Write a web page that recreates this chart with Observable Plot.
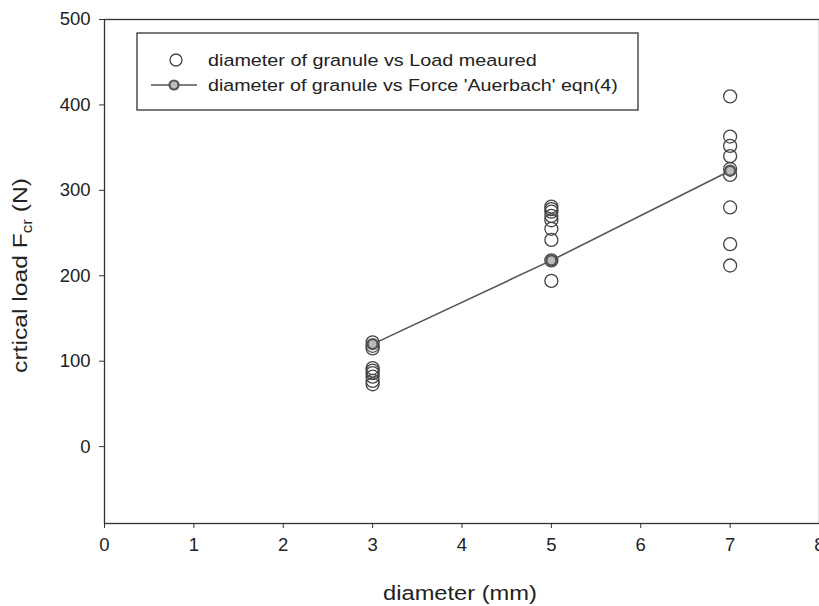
<!DOCTYPE html>
<html>
<head>
<meta charset="utf-8">
<script src="https://cdn.jsdelivr.net/npm/d3@7"></script>
<script src="https://cdn.jsdelivr.net/npm/@observablehq/plot@0.6"></script>
<style>
  html, body { margin: 0; padding: 0; background: #fff; }
  #chart { width: 819px; height: 606px; overflow: hidden; }
  svg { font-family: "Liberation Sans", Arial, sans-serif; }
</style>
</head>
<body>
<div id="chart"></div>
<script>
// ---- data ----
const diam3Loads = [122, 118, 115, 92, 89, 86, 82, 77, 73];
const diam5Loads = [281, 278, 275, 270, 265, 255, 242, 218, 194];
const diam7Loads = [410, 363, 352, 340, 325, 318, 280, 237, 212];
const measuredDiameters = [3, 5, 7];
const auerbachDiameters = [3, 5, 7];
const auerbachForces = [120, 218, 323];
const xTicks = [0, 1, 2, 3, 4, 5, 6, 7, 8];
const yTicks = [0, 100, 200, 300, 400, 500];
const legendLabels = [
  "diameter of granule vs Load meaured",
  "diameter of granule vs Force 'Auerbach' eqn(4)"
];
const xTitle = "diameter (mm)";

// ---- build tables ----
const measured = [];
[diam3Loads, diam5Loads, diam7Loads].forEach((arr, i) => {
  arr.forEach(v => measured.push({d: measuredDiameters[i], f: v}));
});
const auerbach = auerbachDiameters.map((d, i) => ({d, f: auerbachForces[i]}));

const ink = "#333";
const plot = Plot.plot({
  width: 819,
  height: 606,
  marginLeft: 104,
  marginRight: 0,
  marginTop: 19,
  marginBottom: 83,
  style: {fontFamily: "Liberation Sans, Arial, sans-serif", fontSize: "18.5px", color: "#222", background: "#fff"},
  x: {domain: [0, 8], ticks: xTicks, label: null},
  y: {domain: [-90, 500], ticks: yTicks, label: null},
  marks: [
    Plot.frame({stroke: ink, strokeWidth: 1.3}),
    Plot.axisX({ticks: xTicks, tickSize: 5, tickPadding: 9, stroke: ink, label: null, fontSize: 18.5}),
    Plot.axisY({ticks: yTicks, tickSize: 5, tickPadding: 9, stroke: ink, label: null, fontSize: 18.5}),
    Plot.dot(measured, {x: "d", y: "f", r: 6.5, stroke: "#444", strokeWidth: 1.3, fill: "none"}),
    Plot.line(auerbach, {x: "d", y: "f", stroke: "#555", strokeWidth: 1.6}),
    Plot.dot(auerbach, {x: "d", y: "f", r: 5, stroke: "#555", strokeWidth: 2.4, fill: "#bbb"})
  ]
});
document.getElementById("chart").appendChild(plot);

// horizontal stretch factor (in the text's own frame) to reach a target length
function fit(textNode, target) {
  const w = textNode.getBBox().width;
  return w > 0 ? target / w : 1;
}

// ---- legend, axis titles ----
const svg = d3.select(plot);
const lg = svg.append("g");
lg.append("rect").attr("x", 137).attr("y", 33).attr("width", 501).attr("height", 77)
  .attr("fill", "#fff").attr("stroke", ink).attr("stroke-width", 1.3);
lg.append("circle").attr("cx", 176).attr("cy", 60).attr("r", 6)
  .attr("fill", "none").attr("stroke", "#444").attr("stroke-width", 1.3);
lg.append("line").attr("x1", 151).attr("x2", 197).attr("y1", 85).attr("y2", 85)
  .attr("stroke", "#555").attr("stroke-width", 1.6);
lg.append("circle").attr("cx", 174).attr("cy", 85).attr("r", 4.5)
  .attr("fill", "#bbb").attr("stroke", "#555").attr("stroke-width", 2.2);
const legendWidths = [329, 410];
legendLabels.forEach((t, i) => {
  const g = lg.append("g").attr("transform", `translate(208,${60 + 25 * i})`);
  const tx = g.append("text").attr("text-anchor", "start").attr("dy", "0.36em")
    .attr("font-size", 17).attr("fill", "#222").text(t);
  tx.attr("transform", `scale(${fit(tx.node(), legendWidths[i])},1)`);
});

const xg = svg.append("g").attr("transform", "translate(460,593)");
const xt = xg.append("text").attr("dy", "0.36em").attr("text-anchor", "middle")
  .attr("font-size", 20.5).attr("fill", "#222").text(xTitle);
xt.attr("transform", `scale(${fit(xt.node(), 154)},1)`);

const yg = svg.append("g").attr("transform", "translate(27,275.5) rotate(-90)");
const yt = yg.append("text").attr("text-anchor", "middle")
  .attr("font-size", 20.5).attr("fill", "#222");
yt.append("tspan").text("crtical load F");
yt.append("tspan").attr("font-size", 14).attr("dy", "0.35em").text("cr");
yt.append("tspan").attr("dy", "-0.25em").text(" (N)");
yt.attr("transform", `scale(${fit(yt.node(), 195)},1)`);
</script>
</body>
</html>
